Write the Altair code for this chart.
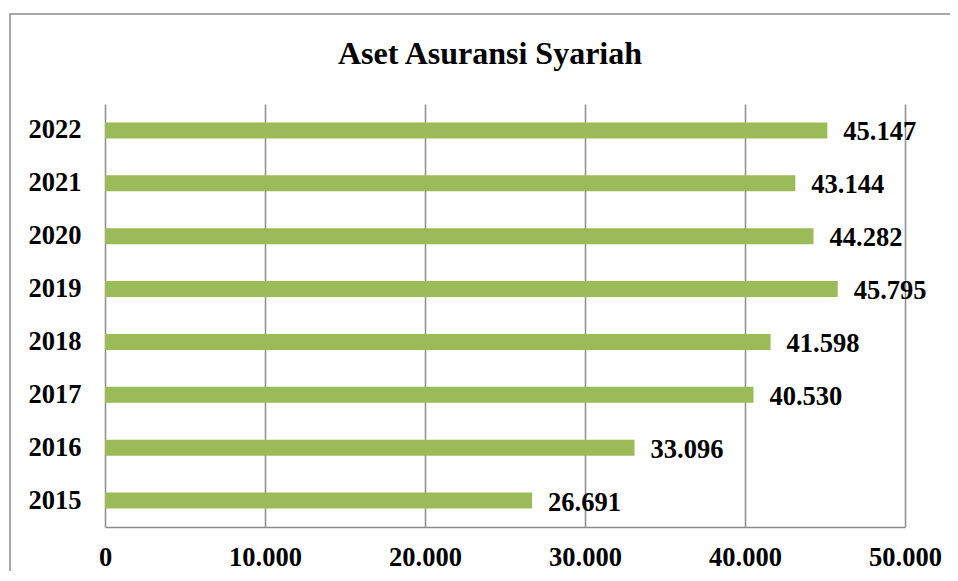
import altair as alt
import pandas as pd

years = ["2015", "2016", "2017", "2018", "2019", "2020", "2021", "2022"]
assets = [26691, 33096, 40530, 41598, 45795, 44282, 43144, 45147]
title_text = "Aset Asuransi Syariah"
x_ticks = [0, 10000, 20000, 30000, 40000, 50000]

df = pd.DataFrame({"Tahun": years, "Aset": assets})
order = list(reversed(years))

FONT = "Liberation Serif"
GREEN = "#9BBB59"
GRAY = "#8c8c8c"
FS = 26.5

x_enc = alt.X("Aset:Q", scale=alt.Scale(domain=[0, 50000], nice=False),
              axis=alt.Axis(values=x_ticks, title=None, grid=True, gridColor=GRAY, gridWidth=1.5,
                            ticks=False, domain=True, domainColor=GRAY, domainWidth=1.5,
                            labelFont=FONT, labelFontSize=FS, labelFontWeight="bold", labelColor="black",
                            labelPadding=17, labelFlush=False,
                            labelExpr="replace(format(datum.value, ','), ',', '.')"))
y_enc = alt.Y("Tahun:N", sort=order, scale=alt.Scale(paddingInner=0, paddingOuter=0),
              axis=alt.Axis(title=None, ticks=False, domain=False, grid=False,
                            labelFont=FONT, labelFontSize=FS, labelFontWeight="bold", labelColor="black",
                            labelPadding=24))

bars = alt.Chart(df).mark_bar(size=16, color=GREEN).encode(x=x_enc, y=y_enc)

labels = alt.Chart(df).transform_calculate(
    lbl="replace(format(datum.Aset, ','), ',', '.')"
).mark_text(align="left", baseline="middle", dx=16, dy=2, font=FONT, fontSize=FS,
            fontWeight="bold", color="black").encode(
    x=alt.X("Aset:Q"), y=alt.Y("Tahun:N", sort=order), text="lbl:N")

frame = alt.Chart(alt.Data(values=[{"a": 1}])).mark_rect(
    fill=None, stroke=GRAY, strokeWidth=1.5).encode(
    x=alt.value(-95), x2=alt.value(1200), y=alt.value(-90), y2=alt.value(800))

title = alt.Chart(alt.Data(values=[{"t": title_text}])).mark_text(
    font=FONT, fontSize=32, fontWeight="bold", color="black", align="center", baseline="alphabetic"
).encode(x=alt.value(385), y=alt.value(-40), text="t:N")

chart = alt.layer(frame, bars, labels, title).properties(
    width=800, height=423,
    autosize=alt.AutoSizeParams(type="none"),
    padding={"left": 97, "top": 96, "right": 45, "bottom": 44},
).configure_view(stroke=None)

chart.save("out.html", embed_options={"renderer": "svg", "actions": False})
